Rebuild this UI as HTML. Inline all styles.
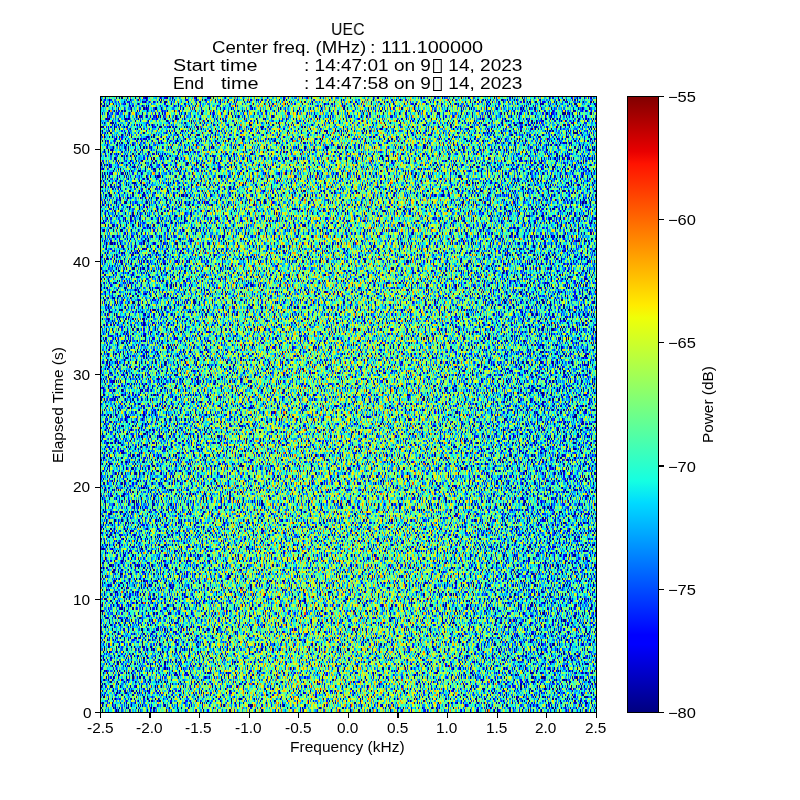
<!DOCTYPE html>
<html><head><meta charset="utf-8">
<style>
html,body{margin:0;padding:0;background:#fff;}
body{width:800px;height:800px;position:relative;overflow:hidden;font-family:"Liberation Sans",sans-serif;color:#000;}
.tx{position:absolute;white-space:pre;line-height:1;transform-origin:0 0;will-change:transform;}
.tk{position:absolute;background:#000;}
#ax{position:absolute;left:100px;top:96px;width:496px;height:616px;background:linear-gradient(to right,rgb(55,169,180) 5.0%,rgb(68,179,169) 15.0%,rgb(86,190,153) 25.0%,rgb(93,192,147) 35.0%,rgb(95,193,145) 45.0%,rgb(94,193,146) 55.0%,rgb(90,191,150) 65.0%,rgb(75,184,163) 75.0%,rgb(59,173,177) 85.0%,rgb(53,168,182) 95.0%);overflow:hidden;}
#ax canvas{position:absolute;left:0;top:0;}
.sp{position:absolute;background:#000;}
#cb{position:absolute;left:627px;top:96px;width:31px;height:616px;background:linear-gradient(to bottom,rgb(128,0,0) 0%,rgb(232,0,0) 9%,rgb(255,19,0) 11%,rgb(255,236,0) 34%,rgb(239,255,8) 36%,rgb(21,255,226) 62.5%,rgb(0,219,255) 66%,rgb(0,0,255) 87.5%,rgb(0,0,255) 89%,rgb(0,0,128) 100%);}
.tofu{display:inline-block;width:8.5px;height:14.2px;border:1px solid #000;box-sizing:border-box;vertical-align:-2.4px;margin:0 1px 0 1.6px;}
</style></head><body>
<div class="tx" style="left:331.09px;top:21.00px;font-size:17.4px;transform:scaleX(0.9114)">UEC</div>
<div class="tx" style="left:211.73px;top:39.00px;font-size:17.4px;transform:scaleX(1.0718)">Center freq. (MHz)</div>
<div class="tx" style="left:370.21px;top:39.00px;font-size:17.4px;transform:scaleX(1.1427)">: 111.100000</div>
<div class="tx" style="left:173.37px;top:57.00px;font-size:17.4px;transform:scaleX(1.1342)">Start time</div>
<div class="tx" style="left:304.31px;top:57.00px;font-size:17.4px;transform:scaleX(1.0939)">: 14:47:01 on 9<span class="tofu"></span> 14, 2023</div>
<div class="tx" style="left:173.20px;top:75.00px;font-size:17.4px;transform:scaleX(1.0000)">End</div>
<div class="tx" style="left:220.70px;top:75.00px;font-size:17.4px;transform:scaleX(1.1438)">time</div>
<div class="tx" style="left:304.31px;top:75.00px;font-size:17.4px;transform:scaleX(1.0939)">: 14:47:58 on 9<span class="tofu"></span> 14, 2023</div>
<div class="tx" style="left:290.32px;top:740.00px;font-size:14.4px;transform:scaleX(1.0781)">Frequency (kHz)</div>
<div class="tx" style="left:51.00px;top:462.67px;font-size:14.4px;transform:rotate(-90deg) scaleX(1.0726)">Elapsed Time (s)</div>
<div class="tx" style="left:700.70px;top:442.97px;font-size:14.4px;transform:rotate(-90deg) scaleX(1.0671)">Power (dB)</div>
<div class="tx" style="left:83.00px;top:706.00px;font-size:14.4px;transform:scaleX(1.0700)">0</div>
<div class="tx" style="left:73.10px;top:593.00px;font-size:14.4px;transform:scaleX(1.0700)">10</div>
<div class="tx" style="left:73.10px;top:480.00px;font-size:14.4px;transform:scaleX(1.0700)">20</div>
<div class="tx" style="left:73.10px;top:368.00px;font-size:14.4px;transform:scaleX(1.0700)">30</div>
<div class="tx" style="left:73.10px;top:255.00px;font-size:14.4px;transform:scaleX(1.0700)">40</div>
<div class="tx" style="left:73.10px;top:142.00px;font-size:14.4px;transform:scaleX(1.0700)">50</div>
<div class="tx" style="left:86.60px;top:721.00px;font-size:14.4px;transform:scaleX(1.0700)">-2.5</div>
<div class="tx" style="left:135.97px;top:721.00px;font-size:14.4px;transform:scaleX(1.0700)">-2.0</div>
<div class="tx" style="left:185.40px;top:721.00px;font-size:14.4px;transform:scaleX(1.0700)">-1.5</div>
<div class="tx" style="left:234.77px;top:721.00px;font-size:14.4px;transform:scaleX(1.0700)">-1.0</div>
<div class="tx" style="left:285.20px;top:721.00px;font-size:14.4px;transform:scaleX(1.0700)">-0.5</div>
<div class="tx" style="left:336.64px;top:721.00px;font-size:14.4px;transform:scaleX(1.0700)">0.0</div>
<div class="tx" style="left:387.07px;top:721.00px;font-size:14.4px;transform:scaleX(1.0700)">0.5</div>
<div class="tx" style="left:435.63px;top:721.00px;font-size:14.4px;transform:scaleX(1.0700)">1.0</div>
<div class="tx" style="left:486.06px;top:721.00px;font-size:14.4px;transform:scaleX(1.0700)">1.5</div>
<div class="tx" style="left:535.06px;top:721.00px;font-size:14.4px;transform:scaleX(1.0700)">2.0</div>
<div class="tx" style="left:585.49px;top:721.00px;font-size:14.4px;transform:scaleX(1.0700)">2.5</div>
<div class="tx" style="left:667.86px;top:90.00px;font-size:14.4px;transform:scaleX(1.1435)">−55</div>
<div class="tx" style="left:667.82px;top:213.00px;font-size:14.4px;transform:scaleX(1.1435)">−60</div>
<div class="tx" style="left:667.86px;top:336.00px;font-size:14.4px;transform:scaleX(1.1435)">−65</div>
<div class="tx" style="left:667.82px;top:460.00px;font-size:14.4px;transform:scaleX(1.1435)">−70</div>
<div class="tx" style="left:667.86px;top:583.00px;font-size:14.4px;transform:scaleX(1.1435)">−75</div>
<div class="tx" style="left:667.82px;top:706.00px;font-size:14.4px;transform:scaleX(1.1435)">−80</div>
<div id="ax"><canvas id="cv" width="496" height="616"></canvas></div>
<div id="cb"></div>
<div class="sp" style="left:100px;top:96px;width:497px;height:1px"></div>
<div class="sp" style="left:100px;top:712px;width:497px;height:1px"></div>
<div class="sp" style="left:100px;top:96px;width:1px;height:617px"></div>
<div class="sp" style="left:596px;top:96px;width:1px;height:617px"></div>
<div class="sp" style="left:627px;top:96px;width:32px;height:1px"></div>
<div class="sp" style="left:627px;top:712px;width:32px;height:1px"></div>
<div class="sp" style="left:627px;top:96px;width:1px;height:617px"></div>
<div class="sp" style="left:658px;top:96px;width:1px;height:617px"></div>
<div class="tk" style="left:95.2px;top:711.65px;width:4.8px;height:1.1px"></div>
<div class="tk" style="left:95.2px;top:599.05px;width:4.8px;height:1.1px"></div>
<div class="tk" style="left:95.2px;top:486.55px;width:4.8px;height:1.1px"></div>
<div class="tk" style="left:95.2px;top:373.95px;width:4.8px;height:1.1px"></div>
<div class="tk" style="left:95.2px;top:261.35px;width:4.8px;height:1.1px"></div>
<div class="tk" style="left:95.2px;top:148.85px;width:4.8px;height:1.1px"></div>
<div class="tk" style="left:99.85px;top:713px;width:1.1px;height:4.7px"></div>
<div class="tk" style="left:149.45px;top:713px;width:1.1px;height:4.7px"></div>
<div class="tk" style="left:199.05px;top:713px;width:1.1px;height:4.7px"></div>
<div class="tk" style="left:248.65px;top:713px;width:1.1px;height:4.7px"></div>
<div class="tk" style="left:298.25px;top:713px;width:1.1px;height:4.7px"></div>
<div class="tk" style="left:347.85px;top:713px;width:1.1px;height:4.7px"></div>
<div class="tk" style="left:397.45px;top:713px;width:1.1px;height:4.7px"></div>
<div class="tk" style="left:447.05px;top:713px;width:1.1px;height:4.7px"></div>
<div class="tk" style="left:496.65px;top:713px;width:1.1px;height:4.7px"></div>
<div class="tk" style="left:546.25px;top:713px;width:1.1px;height:4.7px"></div>
<div class="tk" style="left:595.85px;top:713px;width:1.1px;height:4.7px"></div>
<div class="tk" style="left:659px;top:96.15px;width:4.5px;height:1.1px"></div>
<div class="tk" style="left:659px;top:219.25px;width:4.5px;height:1.1px"></div>
<div class="tk" style="left:659px;top:342.35px;width:4.5px;height:1.1px"></div>
<div class="tk" style="left:659px;top:465.45px;width:4.5px;height:1.1px"></div>
<div class="tk" style="left:659px;top:588.55px;width:4.5px;height:1.1px"></div>
<div class="tk" style="left:659px;top:711.65px;width:4.5px;height:1.1px"></div>
<script>
(function(){
var W=496,H=616;
var cv=document.getElementById('cv');
if(!cv||!cv.getContext)return;
var ctx=cv.getContext('2d');
var img=ctx.createImageData(W,H);
var d=img.data;
var s=2463534242;
function rnd(){s^=s<<13;s>>>=0;s^=s>>>17;s^=s<<5;s>>>=0;return s/4294967296;}
function seg(p,x){for(var i=0;i<p.length-1;i++){if(x>=p[i][0]&&x<=p[i+1][0]){var a=p[i],b=p[i+1];return a[1]+(b[1]-a[1])*(x-a[0])/(b[0]-a[0]);}}return p[p.length-1][1];}
var R=[[0,0],[0.35,0],[0.66,1],[0.89,1],[1,0.5]],G=[[0,0],[0.125,0],[0.375,1],[0.64,1],[0.91,0],[1,0]],B=[[0,0.5],[0.11,1],[0.34,1],[0.65,0],[1,0]];
var lut=[];for(var k=0;k<256;k++){var n=k/255;lut.push([Math.round(255*seg(R,n)),Math.round(255*seg(G,n)),Math.round(255*seg(B,n))]);}
var P=window.NOISEP||{base:-72.2,amp:2.3,f0:-0.15,w:1.6,pw:4,rowp:0.2,nb:450,bamp:0.8,bf0:-0.5,bw:1.2,bt:7,tb:8,tr:4};
function mean(x,y){var f=(x/W)*5-2.5;var t=(H-y)/H*54.7;
 return P.base+P.amp*Math.exp(-Math.pow(Math.abs(f-P.f0)/P.w,P.pw))+P.bamp*Math.exp(-Math.pow((f-P.bf0)/P.bw,2))*Math.exp(-t/P.bt);}
var NB=P.nb;
var rows=[];var yy0=0;while(yy0<H){var hh=2+(rnd()<P.rowp?1:0);rows.push([yy0,hh]);yy0+=hh;}
var NR=rows.length;
var U=new Float32Array(NR*NB);
var TB=P.tb,TR=P.tr;
for(var r0=0;r0<NR;r0+=TR){for(var b0=0;b0<NB;b0+=TB){
 var idx=[];for(var r=r0;r<Math.min(NR,r0+TR);r++)for(var b=b0;b<Math.min(NB,b0+TB);b++)idx.push(r*NB+b);
 var N=idx.length;var us=[];for(var k=0;k<N;k++)us.push((k+rnd())/N);
 for(var k=N-1;k>0;k--){var j=Math.floor(rnd()*(k+1));var tmp=us[k];us[k]=us[j];us[j]=tmp;}
 for(var k=0;k<N;k++)U[idx[k]]=us[k];
}}
for(var r=0;r<NR;r++){
 var y0=rows[r][0],h=rows[r][1];
 for(var x=0;x<W;x++){
  var bi=Math.floor(x*NB/W);
  var u=U[r*NB+bi];if(u>=1)u=0.999999;
  var pw=-Math.log(1-u);if(pw<1e-12)pw=1e-12;
  var v=mean(x,y0+h/2)+10*Math.log(pw)/Math.LN10+2.507;
  var n=(v+80)/25;if(n<0)n=0;if(n>1)n=1;
  var c=lut[Math.round(n*255)];
  for(var yy=y0;yy<Math.min(H,y0+h);yy++){var i=(yy*W+x)*4;d[i]=c[0];d[i+1]=c[1];d[i+2]=c[2];d[i+3]=255;}
 }
}
ctx.putImageData(img,0,0);
})();

</script>
</body></html>
